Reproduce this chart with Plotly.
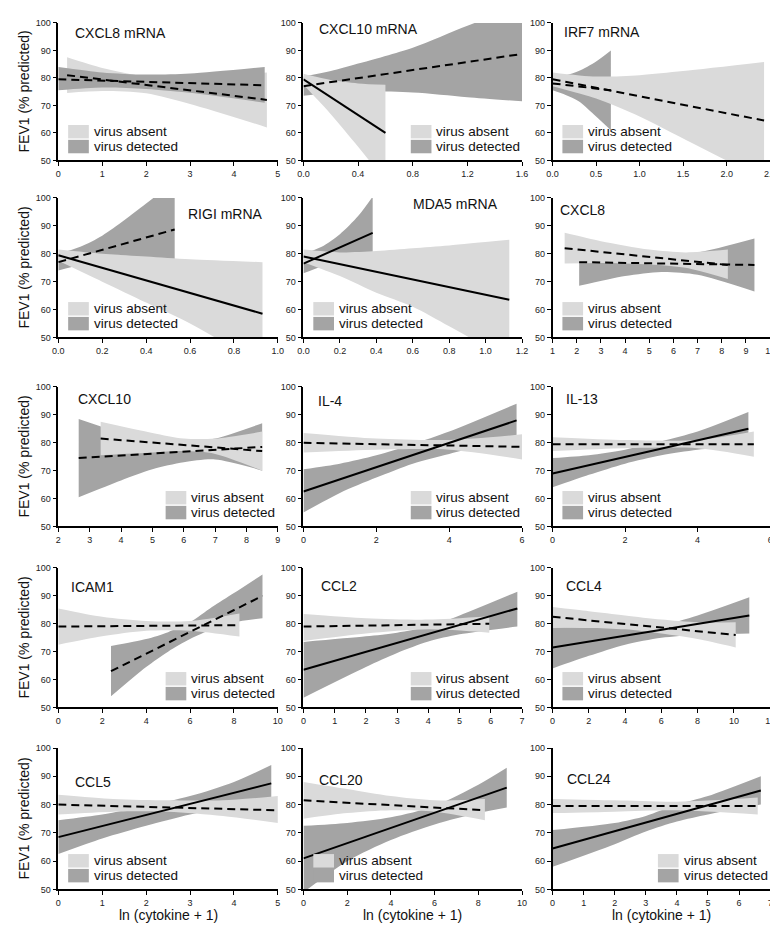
import plotly.graph_objects as go

# ---------------- data ----------------
# Panel 1: CXCL8 mRNA
p1_abs_x = [0.2, 1.0, 2.0, 3.0, 4.75]
p1_abs_hi = [87.5, 83.6, 80.5, 80.5, 82.0]
p1_abs_lo = [74.5, 75.2, 74.4, 70.5, 62.0]
p1_abs_fit = [81.0, 72.0]
p1_det_x = [0.0, 1.0, 2.0, 3.0, 4.7]
p1_det_hi = [84.0, 82.0, 81.2, 81.6, 84.0]
p1_det_lo = [75.5, 76.5, 76.0, 74.6, 71.0]
p1_det_fit = [79.5, 77.3]

# Panel 2: CXCL10 mRNA
p2_abs_x = [0.0, 0.1, 0.2, 0.4, 0.6]
p2_abs_hi = [81.5, 80.3, 79.2, 78.0, 77.5]
p2_abs_lo = [77.5, 72.2, 66.8, 55.0, 42.5]
p2_abs_fit = [79.5, 60.0]
p2_det_x = [0.0, 0.2, 0.4, 0.8, 1.2, 1.6]
p2_det_hi = [80.5, 82.5, 85.2, 91.0, 99.0, 106.0]
p2_det_lo = [73.5, 74.5, 75.0, 74.7, 73.0, 71.5]
p2_det_fit = [77.0, 88.7]

# Panel 3: IRF7 mRNA
p3_abs_x = [0.0, 0.5, 1.0, 1.5, 2.43]
p3_abs_hi = [82.0, 80.5, 81.0, 82.5, 85.8]
p3_abs_lo = [77.0, 72.5, 66.0, 58.0, 43.0]
p3_abs_fit = [79.5, 64.5]
p3_det_x = [0.0, 0.15, 0.3, 0.5, 0.67]
p3_det_hi = [80.5, 81.0, 82.5, 86.0, 90.0]
p3_det_lo = [75.5, 73.8, 71.5, 66.0, 61.0]
p3_det_fit = [78.0, 75.5]

# Panel 4: RIGI mRNA
p4_abs_x = [0.0, 0.2, 0.4, 0.6, 0.93]
p4_abs_hi = [81.5, 80.0, 79.0, 78.0, 77.0]
p4_abs_lo = [77.5, 70.0, 62.5, 55.0, 40.0]
p4_abs_fit = [79.5, 58.5]
p4_det_x = [0.0, 0.1, 0.2, 0.3, 0.4, 0.53]
p4_det_hi = [80.0, 82.5, 86.5, 92.0, 98.0, 106.0]
p4_det_lo = [74.0, 76.0, 77.5, 78.0, 78.2, 78.0]
p4_det_fit = [77.0, 88.7]

# Panel 5: MDA5 mRNA
p5_abs_x = [0.0, 0.2, 0.4, 0.6, 0.8, 1.13]
p5_abs_hi = [81.5, 80.5, 81.0, 82.0, 83.0, 85.0]
p5_abs_lo = [77.0, 72.0, 66.0, 61.0, 54.0, 42.0]
p5_abs_fit = [79.0, 63.5]
p5_det_x = [0.0, 0.1, 0.2, 0.3, 0.38]
p5_det_hi = [80.0, 82.5, 87.0, 93.5, 100.5]
p5_det_lo = [73.0, 75.5, 78.5, 80.0, 80.5]
p5_det_fit = [76.5, 87.5]

# Panel 6: CXCL8
p6_abs_x = [1.5, 3.0, 5.0, 6.5, 8.25]
p6_abs_hi = [87.5, 84.5, 81.5, 80.5, 81.5]
p6_abs_lo = [76.5, 76.7, 76.2, 75.0, 71.0]
p6_abs_fit = [82.0, 76.0]
p6_det_x = [2.1, 4.0, 5.5, 7.0, 9.35]
p6_det_hi = [85.5, 81.5, 79.5, 80.5, 85.5]
p6_det_lo = [68.5, 72.0, 73.5, 72.5, 66.5]
p6_det_fit = [77.0, 76.0]

# Panel 7: CXCL10
p7_abs_x = [3.35, 5.0, 6.0, 7.0, 8.5]
p7_abs_hi = [87.5, 83.5, 81.5, 81.5, 84.0]
p7_abs_lo = [75.5, 76.5, 77.0, 76.0, 70.0]
p7_abs_fit = [81.5, 77.0]
p7_det_x = [2.65, 4.0, 5.0, 6.0, 7.0, 8.5]
p7_det_hi = [88.5, 83.5, 80.5, 80.0, 81.5, 87.0]
p7_det_lo = [60.5, 66.5, 70.5, 73.0, 74.0, 70.0]
p7_det_fit = [74.5, 78.5]

# Panel 8: IL-4
p8_abs_x = [0.0, 2.0, 4.0, 6.0]
p8_abs_hi = [83.5, 81.5, 81.0, 83.0]
p8_abs_lo = [76.5, 77.5, 77.5, 74.0]
p8_abs_fit = [80.0, 78.5]
p8_det_x = [0.0, 1.0, 2.0, 3.0, 4.0, 5.85]
p8_det_hi = [70.5, 72.5, 75.5, 79.5, 84.0, 94.0]
p8_det_lo = [55.0, 62.0, 67.5, 72.5, 76.0, 82.0]
p8_det_fit = [62.5, 88.0]

# Panel 9: IL-13
p9_abs_x = [0.0, 2.0, 4.0, 5.55]
p9_abs_hi = [82.0, 81.0, 81.0, 84.0]
p9_abs_lo = [77.0, 78.0, 78.0, 75.0]
p9_abs_fit = [79.5, 79.5]
p9_det_x = [0.0, 1.0, 2.0, 3.0, 4.0, 5.4]
p9_det_hi = [74.5, 75.5, 77.5, 80.5, 84.0, 91.0]
p9_det_lo = [64.0, 68.5, 72.5, 75.5, 77.5, 79.0]
p9_det_fit = [69.0, 85.0]

# Panel 10: ICAM1
p10_abs_x = [0.0, 2.0, 4.0, 6.0, 8.25]
p10_abs_hi = [85.5, 82.5, 81.0, 81.0, 83.7]
p10_abs_lo = [72.5, 75.5, 77.5, 77.5, 75.4]
p10_abs_fit = [79.0, 79.5]
p10_det_x = [2.4, 4.0, 5.0, 6.0, 7.0, 8.0, 9.3]
p10_det_hi = [72.0, 74.5, 77.0, 80.5, 86.0, 91.0, 97.7]
p10_det_lo = [54.0, 64.5, 70.0, 74.5, 78.0, 80.5, 82.0]
p10_det_fit = [63.0, 90.0]

# Panel 11: CCL2
p11_abs_x = [0.0, 2.0, 4.0, 5.95]
p11_abs_hi = [83.5, 82.0, 81.5, 82.7]
p11_abs_lo = [73.8, 76.5, 78.0, 76.8]
p11_abs_fit = [79.0, 80.0]
p11_det_x = [0.0, 2.0, 3.0, 4.0, 5.0, 6.85]
p11_det_hi = [73.5, 75.5, 76.8, 79.0, 83.0, 91.5]
p11_det_lo = [53.5, 64.5, 69.5, 73.6, 76.2, 79.0]
p11_det_fit = [63.5, 85.5]

# Panel 12: CCL4
p12_abs_x = [0.0, 2.0, 4.0, 6.0, 8.0, 10.1]
p12_abs_hi = [86.0, 84.5, 83.0, 81.5, 80.5, 80.5]
p12_abs_lo = [78.5, 78.5, 78.0, 76.5, 74.5, 71.5]
p12_abs_fit = [82.5, 76.0]
p12_det_x = [0.0, 2.0, 4.0, 6.0, 8.0, 10.85]
p12_det_hi = [79.0, 78.6, 79.0, 79.5, 83.0, 89.5]
p12_det_lo = [64.0, 68.5, 72.5, 75.0, 76.0, 76.5]
p12_det_fit = [71.5, 83.0]

# Panel 13: CCL5
p13_abs_x = [0.0, 1.25, 2.5, 3.75, 5.0]
p13_abs_hi = [83.5, 82.0, 81.5, 81.5, 83.0]
p13_abs_lo = [76.5, 77.5, 77.5, 76.0, 73.5]
p13_abs_fit = [80.0, 78.0]
p13_det_x = [0.0, 1.0, 2.0, 3.0, 4.0, 4.85]
p13_det_hi = [74.5, 76.5, 79.5, 83.0, 88.0, 94.0]
p13_det_lo = [62.5, 68.0, 72.5, 76.5, 79.5, 81.5]
p13_det_fit = [68.5, 87.5]

# Panel 14: CCL20
p14_abs_x = [0.0, 2.0, 4.0, 6.0, 8.3]
p14_abs_hi = [88.0, 85.5, 83.0, 81.5, 82.0]
p14_abs_lo = [75.0, 77.0, 78.0, 77.5, 74.5]
p14_abs_fit = [81.5, 78.0]
p14_det_x = [0.0, 2.0, 4.0, 6.0, 8.0, 9.3]
p14_det_hi = [72.5, 73.5, 75.5, 79.5, 87.0, 93.0]
p14_det_lo = [49.0, 60.0, 67.5, 73.0, 77.0, 79.0]
p14_det_fit = [61.0, 86.0]

# Panel 15: CCL24
p15_abs_x = [0.0, 2.0, 4.0, 6.6]
p15_abs_hi = [82.0, 81.5, 81.0, 82.5]
p15_abs_lo = [77.0, 77.5, 78.0, 76.5]
p15_abs_fit = [79.5, 79.5]
p15_det_x = [0.0, 2.0, 3.0, 4.0, 5.0, 6.7]
p15_det_hi = [71.0, 73.5, 76.0, 80.0, 83.0, 90.0]
p15_det_lo = [58.0, 66.0, 70.5, 74.0, 76.5, 80.0]
p15_det_fit = [64.5, 85.0]

panel_titles = ["CXCL8 mRNA", "CXCL10 mRNA", "IRF7 mRNA",
                "RIGI mRNA", "MDA5 mRNA", "CXCL8",
                "CXCL10", "IL-4", "IL-13",
                "ICAM1", "CCL2", "CCL4",
                "CCL5", "CCL20", "CCL24"]
legend_labels = ["virus absent", "virus detected"]
y_title = "FEV1 (% predicted)"
x_title = "ln (cytokine + 1)"

# ---------------- layout / style ----------------
W, H = 778, 931
LIGHT = "#dadada"
DARK = "#a4a4a4"
FONT = "Liberation Sans, Arial, Helvetica, sans-serif"

col_px = [(45, 268), (294, 516), (547, 768)]
row_px = [(10, 149), (187, 328), (378, 519), (561, 702), (743, 886)]
right_leg_box = [154, 403, 654]


def xp(px):
    return px / W


def yp(py):
    return 1 - py / H


PANELS = [
    dict(ab=(p1_abs_x, p1_abs_lo, p1_abs_hi, p1_abs_fit), de=(p1_det_x, p1_det_lo, p1_det_hi, p1_det_fit),
         xr=[0, 5], dt=1, fmt="d", adash=True, ddash=True, dtop=True, leg="L", tpos=(60, 20)),
    dict(ab=(p2_abs_x, p2_abs_lo, p2_abs_hi, p2_abs_fit), de=(p2_det_x, p2_det_lo, p2_det_hi, p2_det_fit),
         xr=[0, 1.6], dt=0.4, fmt=".1f", adash=False, ddash=True, dtop=False, leg="R", tpos=(308, 16)),
    dict(ab=(p3_abs_x, p3_abs_lo, p3_abs_hi, p3_abs_fit), de=(p3_det_x, p3_det_lo, p3_det_hi, p3_det_fit),
         xr=[0, 2.5], dt=0.5, fmt=".1f", adash=True, ddash=True, dtop=False, leg="L", tpos=(557, 19)),
    dict(ab=(p4_abs_x, p4_abs_lo, p4_abs_hi, p4_abs_fit), de=(p4_det_x, p4_det_lo, p4_det_hi, p4_det_fit),
         xr=[0, 1.0], dt=0.2, fmt=".1f", adash=False, ddash=True, dtop=False, leg="L", tpos=(175, 203)),
    dict(ab=(p5_abs_x, p5_abs_lo, p5_abs_hi, p5_abs_fit), de=(p5_det_x, p5_det_lo, p5_det_hi, p5_det_fit),
         xr=[0, 1.2], dt=0.2, fmt=".1f", adash=False, ddash=False, dtop=False, leg="L", tpos=(403, 193)),
    dict(ab=(p6_abs_x, p6_abs_lo, p6_abs_hi, p6_abs_fit), de=(p6_det_x, p6_det_lo, p6_det_hi, p6_det_fit),
         xr=[1, 10], dt=1, fmt="d", adash=True, ddash=True, dtop=False, leg="L", tpos=(553, 199)),
    dict(ab=(p7_abs_x, p7_abs_lo, p7_abs_hi, p7_abs_fit), de=(p7_det_x, p7_det_lo, p7_det_hi, p7_det_fit),
         xr=[2, 9], dt=1, fmt="d", adash=True, ddash=True, dtop=False, leg="R", tpos=(63, 390)),
    dict(ab=(p8_abs_x, p8_abs_lo, p8_abs_hi, p8_abs_fit), de=(p8_det_x, p8_det_lo, p8_det_hi, p8_det_fit),
         xr=[0, 6], dt=2, fmt="d", adash=True, ddash=False, dtop=False, leg="R", tpos=(307, 392)),
    dict(ab=(p9_abs_x, p9_abs_lo, p9_abs_hi, p9_abs_fit), de=(p9_det_x, p9_det_lo, p9_det_hi, p9_det_fit),
         xr=[0, 6], dt=2, fmt="d", adash=True, ddash=False, dtop=False, leg="L", tpos=(559, 390)),
    dict(ab=(p10_abs_x, p10_abs_lo, p10_abs_hi, p10_abs_fit), de=(p10_det_x, p10_det_lo, p10_det_hi, p10_det_fit),
         xr=[0, 10], dt=2, fmt="d", adash=True, ddash=True, dtop=False, leg="R", tpos=(56, 580)),
    dict(ab=(p11_abs_x, p11_abs_lo, p11_abs_hi, p11_abs_fit), de=(p11_det_x, p11_det_lo, p11_det_hi, p11_det_fit),
         xr=[0, 7], dt=1, fmt="d", adash=True, ddash=False, dtop=False, leg="R", tpos=(310, 579)),
    dict(ab=(p12_abs_x, p12_abs_lo, p12_abs_hi, p12_abs_fit), de=(p12_det_x, p12_det_lo, p12_det_hi, p12_det_fit),
         xr=[0, 12], dt=2, fmt="d", adash=True, ddash=False, dtop=False, leg="L", tpos=(559, 579)),
    dict(ab=(p13_abs_x, p13_abs_lo, p13_abs_hi, p13_abs_fit), de=(p13_det_x, p13_det_lo, p13_det_hi, p13_det_fit),
         xr=[0, 5], dt=1, fmt="d", adash=True, ddash=False, dtop=False, leg="L", tpos=(60, 777)),
    dict(ab=(p14_abs_x, p14_abs_lo, p14_abs_hi, p14_abs_fit), de=(p14_det_x, p14_det_lo, p14_det_hi, p14_det_fit),
         xr=[0, 10], dt=2, fmt="d", adash=True, ddash=False, dtop=False, leg="L", tpos=(308, 775)),
    dict(ab=(p15_abs_x, p15_abs_lo, p15_abs_hi, p15_abs_fit), de=(p15_det_x, p15_det_lo, p15_det_hi, p15_det_fit),
         xr=[0, 7], dt=1, fmt="d", adash=True, ddash=False, dtop=False, leg="R", tpos=(560, 774)),
]

fig = go.Figure()
layout = dict(width=W, height=H, margin=dict(l=0, r=0, t=0, b=0),
              paper_bgcolor="white", plot_bgcolor="white", showlegend=False,
              font=dict(family=FONT, color="#111"))
annotations = []
shapes = []


def band(xs, lo, hi, color, xa, ya):
    fig.add_trace(go.Scatter(x=xs, y=lo, mode="lines", line=dict(width=0, shape="spline", smoothing=0.8),
                             xaxis=xa, yaxis=ya, hoverinfo="skip", showlegend=False))
    fig.add_trace(go.Scatter(x=xs, y=hi, mode="lines", line=dict(width=0, shape="spline", smoothing=0.8),
                             fill="tonexty", fillcolor=color,
                             xaxis=xa, yaxis=ya, hoverinfo="skip", showlegend=False))


def fitline(xs, fit, dashed, xa, ya):
    fig.add_trace(go.Scatter(x=[xs[0], xs[-1]], y=fit, mode="lines",
                             line=dict(color="black", width=2, dash="8px,5px" if dashed else "solid"),
                             xaxis=xa, yaxis=ya, hoverinfo="skip", showlegend=False))


for i, p in enumerate(PANELS):
    r, c = divmod(i, 3)
    s = "" if i == 0 else str(i + 1)
    xa, ya = "x" + s, "y" + s
    cx0, cx1 = col_px[c]
    ry0, ry1 = row_px[r]
    common = dict(showline=True, linecolor="black", linewidth=1.6, ticks="outside", ticklen=4,
                  tickwidth=1.4, tickcolor="black", showgrid=False, zeroline=False,
                  tickfont=dict(size=9, color="#222", family=FONT), fixedrange=True)
    layout["xaxis" + s] = dict(domain=[xp(cx0), xp(cx1)], range=p["xr"], anchor=ya,
                               tick0=p["xr"][0], dtick=p["dt"], tickformat=p["fmt"], **common)
    layout["yaxis" + s] = dict(domain=[yp(ry1), yp(ry0)], range=[50, 100], anchor=xa,
                               tick0=50, dtick=10, **common)

    ax, alo, ahi, afit = p["ab"]
    dx, dlo, dhi, dfit = p["de"]
    if p["dtop"]:
        band(ax, alo, ahi, LIGHT, xa, ya)
        band(dx, dlo, dhi, DARK, xa, ya)
    else:
        band(dx, dlo, dhi, DARK, xa, ya)
        band(ax, alo, ahi, LIGHT, xa, ya)
    fitline(ax, afit, p["adash"], xa, ya)
    fitline(dx, dfit, p["ddash"], xa, ya)

    # panel title
    tx, ty = p["tpos"]
    annotations.append(dict(text=panel_titles[i], x=xp(tx), y=yp(ty), xref="paper", yref="paper",
                            xanchor="left", yanchor="middle", showarrow=False,
                            font=dict(size=14, color="#111", family=FONT)))

    # legend (boxes + labels)
    bx0 = cx0 + 10 if p["leg"] == "L" else right_leg_box[c]
    bx1 = bx0 + 21
    for k, (lab, col) in enumerate(zip(legend_labels, [LIGHT, DARK])):
        cy = ry1 - 29 + 15 * k
        shapes.append(dict(type="rect", xref="paper", yref="paper", x0=xp(bx0), x1=xp(bx1),
                           y0=yp(cy + 6.8), y1=yp(cy - 6.8), fillcolor=col, line=dict(width=0),
                           layer="above"))
        annotations.append(dict(text=lab, x=xp(bx1 + 3), y=yp(cy), xref="paper", yref="paper",
                                xanchor="left", yanchor="middle", showarrow=False,
                                font=dict(size=13.5, color="#111", family=FONT)))

# y-axis titles (one per row)
for ry0, ry1 in row_px:
    annotations.append(dict(text=y_title, x=xp(10), y=yp((ry0 + ry1) / 2), xref="paper", yref="paper",
                            xanchor="center", yanchor="middle", textangle=-90, showarrow=False,
                            font=dict(size=14, color="#111", family=FONT)))
# x-axis titles (bottom row)
for cx0, cx1 in col_px:
    annotations.append(dict(text=x_title, x=xp((cx0 + cx1) / 2), y=yp(912), xref="paper", yref="paper",
                            xanchor="center", yanchor="middle", showarrow=False,
                            font=dict(size=14, color="#111", family=FONT)))

layout["annotations"] = annotations
layout["shapes"] = shapes
fig.update_layout(**layout)
fig.write_html("out.html")
